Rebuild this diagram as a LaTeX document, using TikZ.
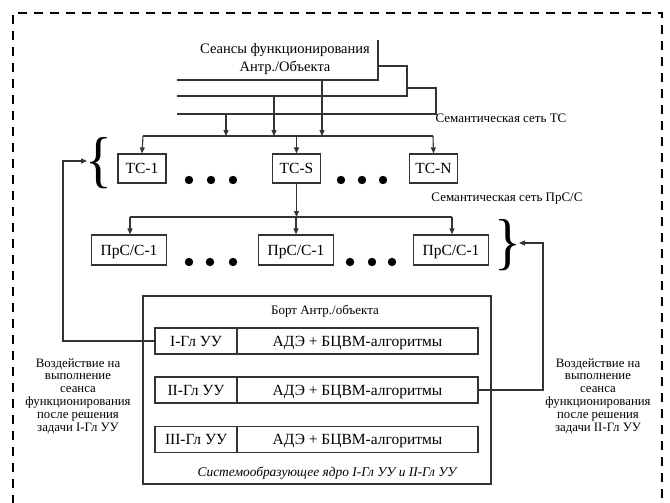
\documentclass[tikz,border=0pt]{standalone}
\usepackage{fontspec}
\setmainfont{Liberation Serif}
\usetikzlibrary{arrows.meta}
\begin{document}
\begin{tikzpicture}[x=1pt,y=-1pt,
  ln/.style={line width=1.1pt,draw=black!80},
  arr/.style={ln,-{Triangle[length=6pt,width=5pt]}},
  cell/.style={draw=black!80,line width=1.2pt,inner sep=0pt,font=\fontsize{15.5}{17}\selectfont,text height=10.2pt,text depth=0pt},
  tc/.style={cell,minimum width=48pt,minimum height=29pt},
  prs/.style={cell,minimum width=75pt,minimum height=30pt},
  lab/.style={font=\fontsize{13}{15}\selectfont,inner sep=0pt},
  side/.style={font=\fontsize{12.8}{12.8}\selectfont,align=center,inner sep=0pt},
  dot/.style={fill=black}]
\useasboundingbox (0,0) rectangle (670,503);
\begin{scope}
\clip (0,0) rectangle (670,503);
\draw[line width=2.5pt,dash pattern=on 9pt off 7pt] (13,520) -- (13,13) -- (662,13) -- (662,520);
\end{scope}

% top source label
\node[align=center,inner sep=0pt,font=\fontsize{14.5}{18}\selectfont] (ses) at (285,59) {Сеансы функционирования\\Антр./Объекта};
\coordinate (v0) at (378,40);
\coordinate (h1a) at (177,80);
\coordinate (h1b) at (378,80);
\coordinate (h2a) at (177,96);
\coordinate (h2b) at (407,96);
\coordinate (h3a) at (177,114);
\coordinate (h3b) at (436,114);
\draw[ln] (h1a) -- (h1b) -- (v0);
\draw[ln] (378,66) -- (407,66) -- (h2b) -- (h2a);
\draw[ln] (407,88) -- (436,88) -- (h3b) -- (h3a);

\coordinate (bus1a) at (143,136);
\coordinate (bus1b) at (433,136);
\draw[ln] (bus1a) -- (bus1b);
\draw[arr] (226,114) -- (226,136);
\draw[arr] (274,96) -- (274,136);
\draw[arr] (322,80) -- (322,136);

\node[lab] (semtc) at (501,118) {Семантическая сеть ТС};

% TC nodes
\node[tc] (tc1) at (142,168.5) {ТС-1};
\node[tc] (tcs) at (296.5,168.5) {ТС-S};
\node[tc] (tcn) at (433.5,168.5) {ТС-N};
\draw[arr] (bus1a) -- (tc1.north);
\draw[arr] (tcs.north |- bus1a) -- (tcs.north);
\draw[arr] (bus1b) -- (tcn.north);

\foreach \x in {189,211,233,341,362,383} \fill[dot] (\x,180) circle (4.2pt);

% PrS layer
\coordinate (bus2a) at (130,217);
\coordinate (bus2b) at (452,217);
\draw[ln] (bus2a) -- (bus2b);
\draw[arr] (tcs.south) -- (tcs.south |- bus2a);
\node[lab] (semprs) at (507,199) {Семантическая сеть ПрС/С};

\node[prs] (p1) at (129,250) {ПрС/С-1};
\node[prs] (p2) at (296,250) {ПрС/С-1};
\node[prs] (p3) at (451,250) {ПрС/С-1};
\draw[arr] (bus2a) -- (bus2a |- p1.north);
\draw[arr] (p2.north |- bus2a) -- (p2.north);
\draw[arr] (bus2b) -- (bus2b |- p3.north);

\foreach \x in {189,210,233,350,372,392} \fill[dot] (\x,262) circle (4.2pt);

% braces
\node[inner sep=0pt] (lbr) at (99,163) {\scalebox{0.9}[1]{\fontsize{62}{62}\selectfont\{}};
\node[inner sep=0pt] (rbr) at (508,245) {\scalebox{0.9}[1]{\fontsize{62}{62}\selectfont\}}};
\coordinate (lbtip) at (87,161);
\coordinate (rbtip) at (519,243);

% board
\node[draw=black!80,line width=1.2pt,minimum width=348pt,minimum height=188pt,inner sep=0pt] (board) at (317,390) {};
\node[lab] (bt) at (325,311) {Борт Антр./объекта};
\node[lab,font=\fontsize{13.4}{15}\itshape] (core) at (327,473) {Системообразующее ядро I-Гл УУ и II-Гл УУ};

\foreach \n/\y/\t in {1/341/I-Гл УУ,2/390/II-Гл УУ,3/439.5/III-Гл УУ}{
  \node[cell,minimum width=82pt,minimum height=26pt] (r\n a) at (196,\y) {\t};
  \node[cell,minimum width=241pt,minimum height=26pt] (r\n b) at (357.5,\y) {АДЭ + БЦВМ-алгоритмы};
}

% feedback
\draw[arr] (r1a.west) -- (63,341) |- (lbtip);
\draw[arr] (r2b.east) -- (543,390) |- (rbtip);

\node[side] (lt) at (78,396) {Воздействие на\\выполнение\\сеанса\\функционирования\\после решения\\задачи I-Гл УУ};
\node[side] (rt) at (598,396) {Воздействие на\\выполнение\\сеанса\\функционирования\\после решения\\задачи II-Гл УУ};
\end{tikzpicture}
\end{document}
